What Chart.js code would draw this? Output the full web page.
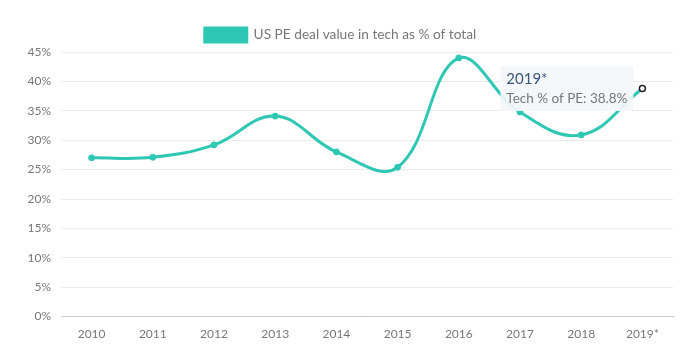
<!DOCTYPE html>
<html>
<head>
<meta charset="utf-8">
<script src="https://cdn.jsdelivr.net/npm/chart.js@4/dist/chart.umd.min.js"></script>
<style>
  html, body { margin: 0; padding: 0; background: #fff; }
  #wrap { width: 692px; height: 346px; position: relative; }
</style>
</head>
<body>
<div id="wrap"><canvas id="c" width="692" height="346"></canvas></div>
<script>
// Share of US private-equity deal value going to tech, by year
const years = ['2010', '2011', '2012', '2013', '2014', '2015', '2016', '2017', '2018', '2019*'];
const techShare = [27.0, 27.1, 29.2, 34.1, 28.0, 25.4, 44.0, 34.8, 30.9, 38.8];
const yTicks = [0, 5, 10, 15, 20, 25, 30, 35, 40, 45];

const teal = '#2ec7b4';
const fontFamily = "'Lato', 'Open Sans', sans-serif";

const chart = new Chart(document.getElementById('c'), {
  type: 'line',
  data: {
    labels: years,
    datasets: [{
      label: 'US PE deal value in tech as % of total',
      data: techShare,
      borderColor: teal,
      backgroundColor: teal,
      borderWidth: 3,
      tension: 0.4,
      pointRadius: 3,
      pointBorderWidth: 1,
      pointBackgroundColor: teal,
      pointBorderColor: teal,
      pointHoverRadius: 3,
      pointHoverBorderWidth: 1.5,
      pointHoverBackgroundColor: '#ffffff',
      pointHoverBorderColor: '#222222',
      fill: false
    }]
  },
  options: {
    responsive: false,
    animation: false,
    layout: { padding: { top: 18, right: 19, bottom: -5, left: 8 } },
    plugins: {
      legend: {
        position: 'top',
        labels: {
          boxWidth: 42,
          boxHeight: 14,
          color: '#777',
          padding: 10,
          font: { family: fontFamily, size: 13.7 }
        }
      },
      tooltip: {
        enabled: true,
        backgroundColor: 'rgba(243,246,250,0.92)',
        titleColor: '#3b5579',
        titleFont: { family: fontFamily, size: 15, weight: 'normal' },
        titleMarginBottom: 3,
        bodyColor: '#777',
        bodyFont: { family: fontFamily, size: 13.5 },
        displayColors: false,
        padding: { left: 6, right: 6, top: 4, bottom: 4 },
        caretSize: 0,
        caretPadding: 9,
        cornerRadius: 3,
        xAlign: 'right',
        yAlign: 'center',
        callbacks: {
          label: (ctx) => 'Tech % of PE: ' + ctx.parsed.y.toFixed(1) + '%'
        }
      }
    },
    scales: {
      x: {
        offset: true,
        grid: { display: false, drawTicks: false, offset: true },
        border: { display: true, color: '#c8c8c8', width: 1 },
        ticks: { color: '#777', padding: 10, font: { family: fontFamily, size: 12 } }
      },
      y: {
        min: 0,
        max: 45,
        afterBuildTicks: (axis) => { axis.ticks = yTicks.map(v => ({ value: v })); },
        afterFit: (axis) => { axis.width = 53; },
        grid: { color: '#ebebeb', drawTicks: false },
        border: { display: false },
        ticks: {
          color: '#777',
          padding: 10,
          font: { family: fontFamily, size: 12 },
          callback: (v) => v + '%'
        }
      }
    }
  }
});

// Highlight the latest year with its tooltip
const active = [{ datasetIndex: 0, index: techShare.length - 1 }];
const pt = chart.getDatasetMeta(0).data[techShare.length - 1];
chart.setActiveElements(active);
chart.tooltip.setActiveElements(active, { x: pt.x, y: pt.y });
chart.update();
</script>
</body>
</html>
